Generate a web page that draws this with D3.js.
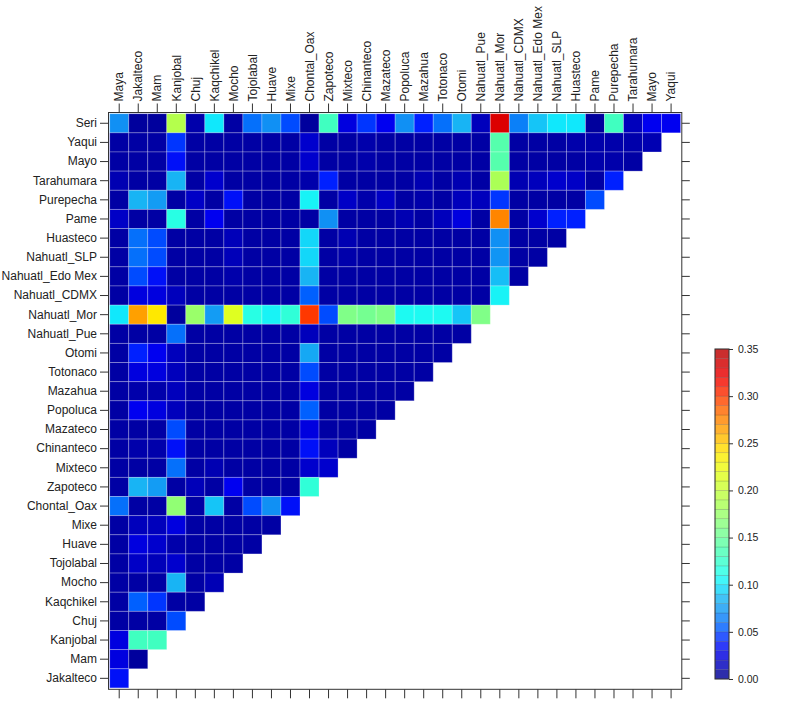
<!DOCTYPE html>
<html>
<head>
<meta charset="utf-8">
<script src="https://cdn.jsdelivr.net/npm/d3@7"></script>
<style>
  html, body { margin: 0; padding: 0; background: #ffffff; }
  svg { display: block; }
  text { font-family: "Liberation Sans", Arial, sans-serif; fill: #222; }
</style>
</head>
<body>
<svg id="chart" width="800" height="715"></svg>
<script>
// ---- data ----
const columns = ["Maya","Jakalteco","Mam","Kanjobal","Chuj","Kaqchikel","Mocho","Tojolabal","Huave","Mixe",
  "Chontal_Oax","Zapoteco","Mixteco","Chinanteco","Mazateco","Popoluca","Mazahua","Totonaco","Otomi","Nahuatl_Pue",
  "Nahuatl_Mor","Nahuatl_CDMX","Nahuatl_Edo Mex","Nahuatl_SLP","Huasteco","Pame","Purepecha","Tarahumara","Mayo","Yaqui"];

const rows = ["Seri","Yaqui","Mayo","Tarahumara","Purepecha","Pame","Huasteco","Nahuatl_SLP","Nahuatl_Edo Mex","Nahuatl_CDMX",
  "Nahuatl_Mor","Nahuatl_Pue","Otomi","Totonaco","Mazahua","Popoluca","Mazateco","Chinanteco","Mixteco","Zapoteco",
  "Chontal_Oax","Mixe","Huave","Tojolabal","Mocho","Kaqchikel","Chuj","Kanjobal","Mam","Jakalteco"];

// one list per row (row i pairs with the first 30 - i columns)
const values = [
  [0.07,0.006,0.006,0.19,0.01,0.10,0.008,0.06,0.07,0.05,0.006,0.13,0.025,0.045,0.03,0.07,0.04,0.06,0.085,0.015,0.33,0.065,0.09,0.10,0.10,0.006,0.13,0.015,0.03,0.03],
  [0.008,0.008,0.008,0.045,0.008,0.008,0.008,0.008,0.008,0.008,0.02,0.008,0.008,0.01,0.008,0.008,0.008,0.008,0.008,0.008,0.14,0.008,0.008,0.008,0.01,0.01,0.01,0.01,0.012],
  [0.008,0.008,0.008,0.035,0.008,0.008,0.008,0.008,0.008,0.008,0.02,0.008,0.008,0.01,0.008,0.008,0.008,0.008,0.008,0.008,0.14,0.008,0.008,0.008,0.008,0.01,0.01,0.008],
  [0.012,0.008,0.008,0.085,0.008,0.02,0.008,0.008,0.008,0.008,0.01,0.04,0.008,0.008,0.008,0.008,0.012,0.008,0.012,0.008,0.185,0.012,0.015,0.02,0.018,0.008,0.04],
  [0.008,0.085,0.075,0.008,0.018,0.008,0.035,0.008,0.008,0.008,0.105,0.008,0.018,0.01,0.018,0.008,0.01,0.008,0.015,0.015,0.045,0.008,0.008,0.008,0.008,0.05],
  [0.018,0.008,0.008,0.115,0.008,0.03,0.008,0.008,0.008,0.008,0.008,0.07,0.008,0.008,0.008,0.012,0.008,0.015,0.025,0.008,0.275,0.008,0.02,0.04,0.04],
  [0.008,0.06,0.05,0.008,0.008,0.008,0.014,0.008,0.008,0.008,0.095,0.008,0.012,0.008,0.008,0.008,0.008,0.008,0.008,0.008,0.07,0.008,0.008,0.008],
  [0.008,0.06,0.05,0.008,0.008,0.008,0.014,0.008,0.008,0.008,0.095,0.008,0.01,0.008,0.008,0.008,0.008,0.008,0.008,0.008,0.072,0.008,0.008],
  [0.008,0.05,0.035,0.008,0.008,0.008,0.01,0.008,0.008,0.008,0.085,0.008,0.008,0.008,0.008,0.008,0.008,0.008,0.008,0.008,0.088,0.008],
  [0.008,0.025,0.025,0.015,0.008,0.008,0.008,0.008,0.008,0.008,0.055,0.008,0.008,0.008,0.008,0.008,0.008,0.008,0.008,0.008,0.105],
  [0.10,0.265,0.24,0.006,0.175,0.075,0.215,0.115,0.105,0.12,0.30,0.05,0.16,0.155,0.16,0.108,0.108,0.108,0.09,0.16],
  [0.008,0.008,0.008,0.06,0.008,0.008,0.008,0.008,0.008,0.008,0.015,0.008,0.008,0.008,0.008,0.008,0.008,0.008,0.008],
  [0.008,0.04,0.03,0.015,0.008,0.008,0.008,0.008,0.008,0.008,0.08,0.008,0.008,0.008,0.008,0.008,0.008,0.008],
  [0.008,0.025,0.025,0.015,0.008,0.008,0.008,0.008,0.008,0.008,0.05,0.008,0.008,0.008,0.008,0.008,0.008],
  [0.008,0.01,0.01,0.015,0.008,0.008,0.008,0.008,0.008,0.008,0.025,0.008,0.008,0.008,0.008,0.008],
  [0.008,0.03,0.025,0.015,0.008,0.008,0.008,0.008,0.008,0.008,0.055,0.008,0.008,0.008,0.008],
  [0.008,0.008,0.008,0.05,0.008,0.008,0.008,0.008,0.008,0.008,0.025,0.008,0.008,0.008],
  [0.008,0.01,0.01,0.035,0.008,0.008,0.008,0.008,0.008,0.008,0.035,0.015,0.008],
  [0.008,0.008,0.008,0.06,0.008,0.012,0.008,0.008,0.008,0.008,0.02,0.02],
  [0.008,0.085,0.075,0.008,0.014,0.008,0.03,0.008,0.008,0.008,0.12],
  [0.06,0.008,0.008,0.17,0.008,0.09,0.008,0.05,0.07,0.035],
  [0.008,0.015,0.015,0.025,0.008,0.008,0.008,0.008,0.008],
  [0.008,0.025,0.02,0.01,0.008,0.008,0.008,0.008],
  [0.008,0.018,0.014,0.02,0.008,0.008,0.008],
  [0.008,0.008,0.008,0.085,0.008,0.013],
  [0.008,0.055,0.045,0.008,0.008],
  [0.008,0.008,0.008,0.05],
  [0.025,0.13,0.13],
  [0.025,0.006],
  [0.035]
];

const colorTicks = [0.00, 0.05, 0.10, 0.15, 0.20, 0.25, 0.30, 0.35];
const colorDomain = [0, 0.35];

// ---- colour scale (jet-like) ----
const stopVals = [0, 0.03, 0.04, 0.055, 0.07, 0.085, 0.10, 0.11, 0.13, 0.16, 0.19, 0.22, 0.24, 0.265, 0.28, 0.30, 0.32, 0.35];
const stopCols = ["#000088","#0000f0","#0020ff","#0060ff","#1090f4","#18b4f4","#10e8fc","#20fff0","#40ffc0","#80ff88","#b4ff4c","#e8ff18","#ffe800","#ffa000","#ff7800","#ff3800","#f00000","#b40000"];
const color = d3.scaleLinear().domain(stopVals).range(stopCols).interpolate(d3.interpolateRgb).clamp(true);

// ---- layout ----
const svg = d3.select("#chart");
const x = d3.scaleBand().domain(columns).range([109.7, 680.6]);
const y = d3.scaleBand().domain(rows).range([113.7, 687.9]);

const cells = [];
values.forEach((rowVals, i) => rowVals.forEach((v, j) => cells.push({row: rows[i], col: columns[j], v})));

svg.append("g").selectAll("rect").data(cells).join("rect")
  .attr("x", d => x(d.col))
  .attr("y", d => y(d.row))
  .attr("width", x.bandwidth())
  .attr("height", y.bandwidth())
  .attr("fill", d => color(d.v))
  .attr("stroke", "rgba(255,255,255,0.28)")
  .attr("stroke-width", 0.9);

// panel frame
const frame = {x0: 108.5, y0: 112.5, x1: 681.8, y1: 689.3};
svg.append("rect")
  .attr("x", frame.x0).attr("y", frame.y0)
  .attr("width", frame.x1 - frame.x0).attr("height", frame.y1 - frame.y0)
  .attr("fill", "none").attr("stroke", "#333").attr("stroke-width", 1);

function styleAxis(g) {
  g.select(".domain").remove();
  g.selectAll(".tick line").attr("stroke", "#333").attr("stroke-width", 1);
  g.selectAll(".tick text").style("font-size", "12px").attr("fill", "#222");
}

// left axis
svg.append("g").attr("transform", `translate(${frame.x0},0)`)
  .call(d3.axisLeft(y).tickSize(8.5).tickPadding(3).tickSizeOuter(0))
  .call(styleAxis);

// right axis (ticks only)
svg.append("g").attr("transform", `translate(${frame.x1},0)`)
  .call(d3.axisRight(y).tickSize(8).tickFormat("").tickSizeOuter(0))
  .call(styleAxis);

// top axis
const topAxis = svg.append("g").attr("transform", `translate(0,${frame.y0})`)
  .call(d3.axisTop(x).tickSize(9).tickSizeOuter(0))
  .call(styleAxis);
topAxis.selectAll(".tick text")
  .attr("transform", "rotate(-90)")
  .attr("x", 11).attr("y", 0).attr("dy", "0.35em")
  .attr("text-anchor", "start");

// bottom axis (ticks only)
svg.append("g").attr("transform", `translate(0,${frame.y1})`)
  .call(d3.axisBottom(x).tickSize(9).tickFormat("").tickSizeOuter(0))
  .call(styleAxis);

// ---- colour key ----
const keyX = 715, keyW = 14;
const ky = d3.scaleLinear().domain(colorDomain).range([679, 349]);
const bands = d3.range(0, 35).map(k => ({lo: k / 100, hi: (k + 1) / 100}));
const key = svg.append("g");
key.selectAll("rect").data(bands).join("rect")
  .attr("x", keyX).attr("width", keyW)
  .attr("y", d => ky(d.hi)).attr("height", d => ky(d.lo) - ky(d.hi))
  .attr("fill", d => color((d.lo + d.hi) / 2))
  .attr("fill-opacity", 0.82)
  .attr("stroke", "rgba(60,60,60,0.25)").attr("stroke-width", 0.6);
key.append("rect")
  .attr("x", keyX).attr("y", ky(0.35)).attr("width", keyW).attr("height", ky(0) - ky(0.35))
  .attr("fill", "none").attr("stroke", "#333").attr("stroke-width", 1);
const kAxis = svg.append("g").attr("transform", `translate(${keyX + keyW},0)`)
  .call(d3.axisRight(ky).tickValues(colorTicks).tickFormat(d3.format(".2f")).tickSize(4).tickPadding(5));
kAxis.select(".domain").remove();
kAxis.selectAll(".tick line").attr("stroke", "#333");
kAxis.selectAll(".tick text").style("font-size", "10.5px").attr("fill", "#333");
</script>
</body>
</html>
